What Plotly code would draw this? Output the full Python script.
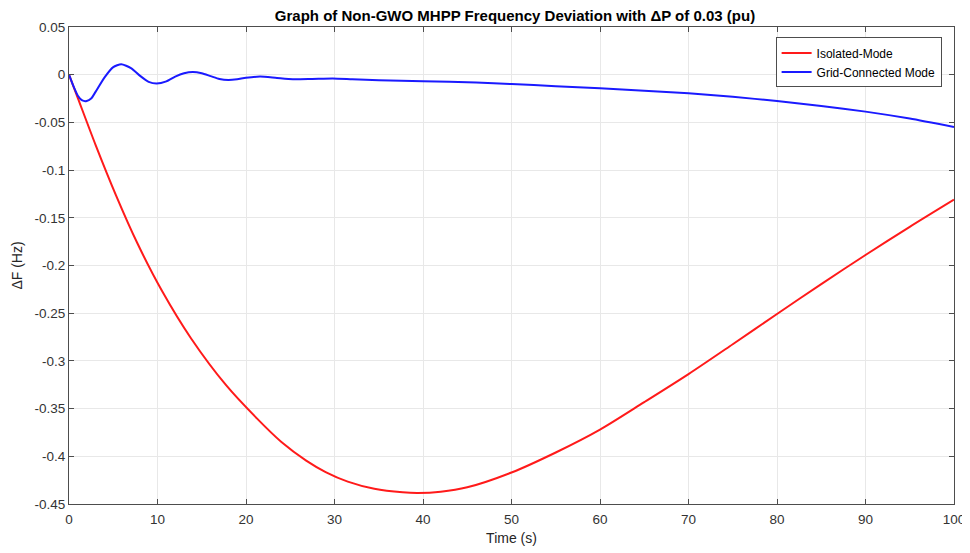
import plotly.graph_objects as go

# Isolated-mode frequency deviation
t_iso = [0, 1, 3, 5.3, 7.7, 10.5, 13.8, 17.75, 21.2, 24, 26.8, 29, 31.5, 34.5, 37.7, 39.4,
         42, 45, 50, 55, 60, 65, 70, 75, 80, 85, 90, 95, 100]
df_iso = [0, -0.0245, -0.0735, -0.1262, -0.1762, -0.2265, -0.2765, -0.3255, -0.3600,
          -0.3850, -0.4045, -0.4165, -0.4265, -0.4340, -0.4378, -0.4385,
          -0.4372, -0.4325, -0.4170, -0.3960, -0.3720, -0.3432, -0.3138, -0.2825,
          -0.2508, -0.2195, -0.1890, -0.1595, -0.1310]

# Grid-connected frequency deviation
t_grid = [0, 0.5, 1, 1.5, 2, 2.5, 3, 4, 5, 5.9, 7, 8, 9, 9.9, 11, 12, 13, 14, 15, 16, 17, 18,
          19, 20, 21.6, 23.5, 25.3, 27.5, 29.8, 32, 35, 40, 46, 50, 55, 60, 65, 70, 75, 80,
          85, 90, 95, 100]
df_grid = [0, -0.012, -0.022, -0.027, -0.0276, -0.025, -0.018, -0.003, 0.008, 0.0109, 0.007,
           -0.001, -0.0075, -0.0093, -0.007, -0.002, 0.0015, 0.0028, 0.0015, -0.0015, -0.0045,
           -0.0056, -0.0048, -0.0032, -0.0020, -0.0035, -0.0048, -0.0045, -0.0040, -0.0048,
           -0.0058, -0.0068, -0.0083, -0.0098, -0.0120, -0.0143, -0.0167, -0.0195, -0.0232,
           -0.0276, -0.0328, -0.0387, -0.0460, -0.0549]

x_ticks = [0, 10, 20, 30, 40, 50, 60, 70, 80, 90, 100]
y_ticks = [0.05, 0, -0.05, -0.1, -0.15, -0.2, -0.25, -0.3, -0.35, -0.4, -0.45]
y_tick_labels = ["0.05", "0", "-0.05", "-0.1", "-0.15", "-0.2", "-0.25", "-0.3", "-0.35",
                 "-0.4", "-0.45"]

FONT = "Liberation Sans, Arial, Helvetica"

# the page body adds an 8px offset, so the figure is sized to the remaining area
W, H = 962, 545

fig = go.Figure()
fig.add_trace(go.Scatter(x=t_iso, y=df_iso, mode="lines", name="Isolated-Mode",
                         line=dict(color="#ff1a1a", width=2, shape="spline", smoothing=0.8)))
fig.add_trace(go.Scatter(x=t_grid, y=df_grid, mode="lines", name="Grid-Connected Mode",
                         line=dict(color="#1a1aff", width=2, shape="spline", smoothing=0.6)))

axis_common = dict(showline=True, linecolor="#4d4d4d", linewidth=1, mirror="ticks",
                   ticks="inside", ticklen=5, tickcolor="#4d4d4d", automargin=False,
                   showgrid=True, gridcolor="#e8e8e8", gridwidth=1, zeroline=False,
                   tickfont=dict(family=FONT, size=13.5, color="#333333"))

fig.update_layout(
    width=W, height=H,
    paper_bgcolor="white", plot_bgcolor="white",
    margin=dict(l=61, r=16, t=19, b=49),
    title=dict(text="<b>Graph of Non-GWO MHPP Frequency Deviation with ΔP of 0.03 (pu)</b>",
               x=507 / W, xanchor="center", xref="container",
               y=1 - 8 / H, yanchor="middle", yref="container",
               font=dict(family=FONT, size=15, color="#000000")),
    xaxis=dict(range=[0, 100], tickvals=x_ticks, ticklabelstandoff=3,
               title=dict(text="Time (s)", standoff=6,
                          font=dict(family=FONT, size=14, color="#262626")),
               **axis_common),
    yaxis=dict(range=[-0.45, 0.05], tickvals=y_ticks, ticktext=y_tick_labels,
               title=dict(text="ΔF (Hz)", standoff=8,
                          font=dict(family=FONT, size=14, color="#262626")),
               **axis_common),
    legend=dict(x=0.986, y=0.978, xanchor="right", yanchor="top",
                bgcolor="white", bordercolor="#4d4d4d", borderwidth=1,
                font=dict(family=FONT, size=12, color="#000000"),
                tracegroupgap=0),
    showlegend=True,
)

fig.write_html("out.html")
